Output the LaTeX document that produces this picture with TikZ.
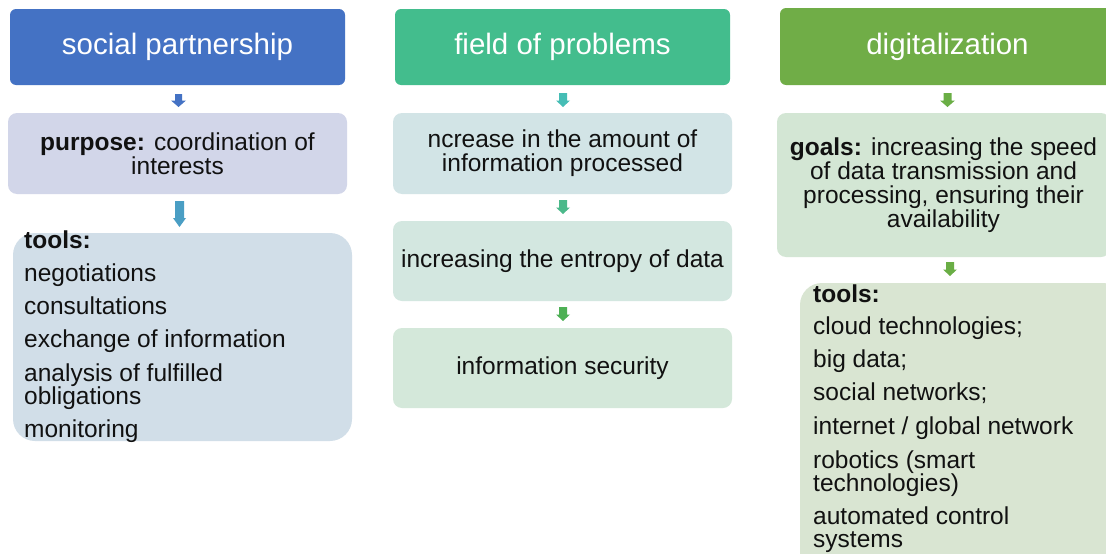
\documentclass[tikz,border=0pt]{standalone}
\usepackage{fontspec}
\setmainfont{Liberation Sans}
\definecolor{hA}{HTML}{4472C4}
\definecolor{hB}{HTML}{43BD8D}
\definecolor{hC}{HTML}{70AD47}
\definecolor{bAa}{HTML}{D2D6E9}
\definecolor{bAb}{HTML}{D1DEE8}
\definecolor{bBa}{HTML}{D2E4E6}
\definecolor{bBb}{HTML}{D3E7E0}
\definecolor{bBc}{HTML}{D4E8DA}
\definecolor{bCa}{HTML}{D3E6D4}
\definecolor{bCb}{HTML}{D9E5D2}
\definecolor{aA1}{HTML}{4472C4}
\definecolor{aA2}{HTML}{4A9EC4}
\definecolor{aB1}{HTML}{45BDB5}
\definecolor{aB2}{HTML}{4BB98A}
\definecolor{aB3}{HTML}{4DB055}
\definecolor{aC}{HTML}{6AAE45}
\definecolor{txt}{HTML}{111111}
\newcommand{\blkarrow}[7]{% color, cx, ytop, ybot, shaft half, head half, head length
  \fill[#1] ({#2-#5},#3) -- ({#2+#5},#3) -- ({#2+#5},{#4-#7}) -- ({#2+#6},{#4-#7})
    -- (#2,#4) -- ({#2-#6},{#4-#7}) -- ({#2-#5},{#4-#7}) -- cycle;}
\tikzset{
  hdr/.style={rectangle, rounded corners=6pt, inner sep=0pt, text=white,
    text height=21pt, text depth=6pt,
    font=\fontsize{29.5}{33}\selectfont},
  midbox/.style={rectangle, rounded corners=9pt, inner sep=0pt, text=txt, align=center,
    font=\fontsize{24.5}{24}\selectfont},
  toolbox/.style={rectangle, rounded corners=22pt, inner sep=0pt},
  item/.style={anchor=base west, inner sep=0pt, text=txt,
    font=\fontsize{24.5}{24}\selectfont},
}
\begin{document}
\begin{tikzpicture}[x=1pt,y=-1pt]
\clip (0,0) rectangle (1106,554);
\fill[white] (0,0) rectangle (1106,554);
% headers
\node[hdr, fill=hA, minimum width=335pt, minimum height=76pt] (h1) at (177.5,47) {social partnership};
\node[hdr, fill=hB, minimum width=335pt, minimum height=76pt] (h2) at (562.5,47) {field of problems};
\node[hdr, fill=hC, minimum width=335pt, minimum height=77pt] (h3) at (947.5,46.5) {digitalization};
% column 1
\node[midbox, fill=bAa, minimum width=339pt, minimum height=81pt] (a1) at (177.5,153.5)
  {\textbf{purpose:} coordination of\\interests};
\node[toolbox, fill=bAb, minimum width=339pt, minimum height=208pt] (a2) at (182.5,337) {};
\node[item] (a2t) at (24,248) {\textbf{tools:}};
\node[item] (a2i1) at (24,281) {negotiations};
\node[item] (a2i2) at (24,314) {consultations};
\node[item] (a2i3) at (24,347) {exchange of information};
\node[item] (a2i4) at (24,381) {analysis of fulfilled};
\node[item] (a2i4b) at (24,404) {obligations};
\node[item] (a2i5) at (24,437) {monitoring};
% column 2
\node[midbox, fill=bBa, minimum width=339pt, minimum height=81pt] (b1) at (562.5,153.5)
  {ncrease in the amount of\\information processed};
\node[midbox, fill=bBb, minimum width=339pt, minimum height=80pt] (b2) at (562.5,261)
  {increasing the entropy of data};
\node[midbox, fill=bBc, minimum width=339pt, minimum height=80pt] (b3) at (562.5,368)
  {information security};
% column 3
\node[midbox, fill=bCa, minimum width=333pt, minimum height=144pt] (c1) at (943.5,185)
  {\textbf{goals:} increasing the speed\\of data transmission and\\processing, ensuring their\\availability};
\node[toolbox, fill=bCb, minimum width=325pt, minimum height=292pt] (c2) at (962.5,429) {};
\node[item] (c2t) at (813,302) {\textbf{tools:}};
\node[item] (c2i1) at (813,334) {cloud technologies;};
\node[item] (c2i2) at (813,367) {big data;};
\node[item] (c2i3) at (813,400) {social networks;};
\node[item] (c2i4) at (813,434) {internet / global network};
\node[item] (c2i5) at (813,468) {robotics (smart};
\node[item] (c2i5b) at (813,491) {technologies)};
\node[item] (c2i6) at (813,524) {automated control};
\node[item] (c2i6b) at (813,547) {systems};
% block arrows
\blkarrow{aA1}{178.5}{94}{107}{3.5}{7.5}{6.5}
\blkarrow{aA2}{179.5}{201}{227}{4.5}{6.5}{9}
\blkarrow{aB1}{563}{93}{107}{4}{7}{6.5}
\blkarrow{aB2}{563}{200}{214}{4}{7}{6.5}
\blkarrow{aB3}{563}{307}{321}{4}{7}{6.5}
\blkarrow{aC}{947.5}{93}{107}{4}{7.5}{6.5}
\blkarrow{aC}{950}{262}{276}{4}{7}{6.5}
\end{tikzpicture}
\end{document}
